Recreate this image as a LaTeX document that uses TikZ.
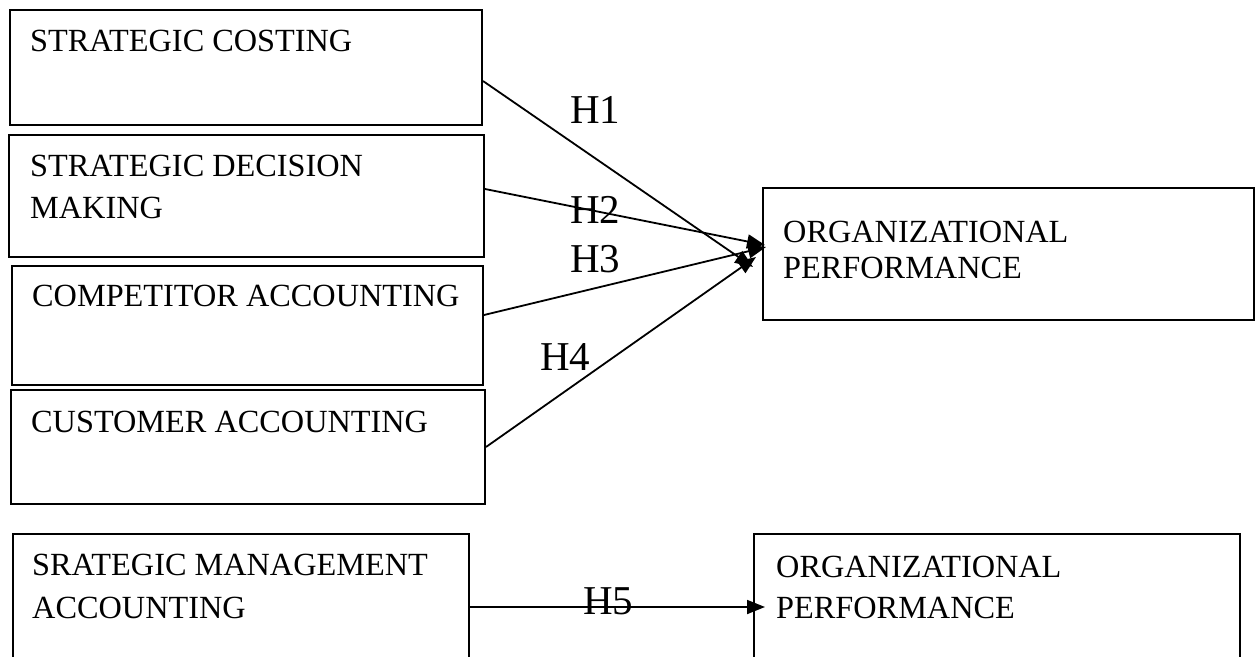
\documentclass[tikz,border=0pt]{standalone}
\usepackage{fontspec}
\setmainfont{Liberation Serif}
\usetikzlibrary{arrows.meta}
\begin{document}
\begin{tikzpicture}[x=1pt,y=-1pt,
  box/.style={draw, line width=2pt, inner sep=0pt, anchor=north west},
  txt/.style={anchor=base west, inner sep=0pt, font=\fontsize{32.3}{40}\selectfont},
  hlab/.style={anchor=base west, inner sep=0pt, font=\fontsize{41}{45}\selectfont},
  conn/.style={line width=1.8pt, -{Triangle[length=18pt,width=14pt]}}]
\useasboundingbox (0,0) rectangle (1255,656);
\clip (0,0) rectangle (1255,656);
% left boxes
\node[box, minimum width=472pt, minimum height=115pt] (b1) at (9,9) {};
\node[box, minimum width=475pt, minimum height=122pt] (b2) at (8,134) {};
\node[box, minimum width=471pt, minimum height=119pt] (b3) at (11,265) {};
\node[box, minimum width=474pt, minimum height=114pt] (b4) at (10,389) {};
\node[box, minimum width=456pt, minimum height=146pt] (b5) at (12,533) {};
% right boxes
\node[box, minimum width=491pt, minimum height=132pt] (o1) at (762,187) {};
\node[box, minimum width=486pt, minimum height=146pt] (o2) at (753,533) {};
% texts
\node[txt] (t1) at (30,51) {STRATEGIC COSTING};
\node[txt] (t2a) at (30,176) {STRATEGIC DECISION};
\node[txt] (t2b) at (30,218) {MAKING};
\node[txt] (t3) at (32,306) {COMPETITOR ACCOUNTING};
\node[txt] (t4) at (31,432) {CUSTOMER ACCOUNTING};
\node[txt] (t5a) at (32,575) {SRATEGIC MANAGEMENT};
\node[txt] (t5b) at (32,618) {ACCOUNTING};
\node[txt] (o1a) at (783,242) {ORGANIZATIONAL};
\node[txt] (o1b) at (783,278) {PERFORMANCE};
\node[txt] (o2a) at (776,577) {ORGANIZATIONAL};
\node[txt] (o2b) at (776,618) {PERFORMANCE};
% arrow tips
\coordinate (p1) at (753,267);
\coordinate (p2) at (765,245);
\coordinate (p3) at (766,247);
\coordinate (p4) at (756,257);
% connectors
\draw[conn] ([yshift=-13.5pt]b1.east) -- (p1);
\draw[conn] ([yshift=7pt]b2.east) -- (p2);
\draw[conn] ([yshift=10.5pt]b3.east) -- (p3);
\draw[conn] (b4.east) -- (p4);
\draw[conn, shorten >=-12pt] (b5.east) -- (o2.west);
% labels
\node[hlab] (h1) at (570,123) {H1};
\node[hlab] (h2) at (570,223) {H2};
\node[hlab] (h3) at (570,272) {H3};
\node[hlab] (h4) at (540,370) {H4};
\node[hlab] (h5) at (583,614) {H5};
\end{tikzpicture}
\end{document}
